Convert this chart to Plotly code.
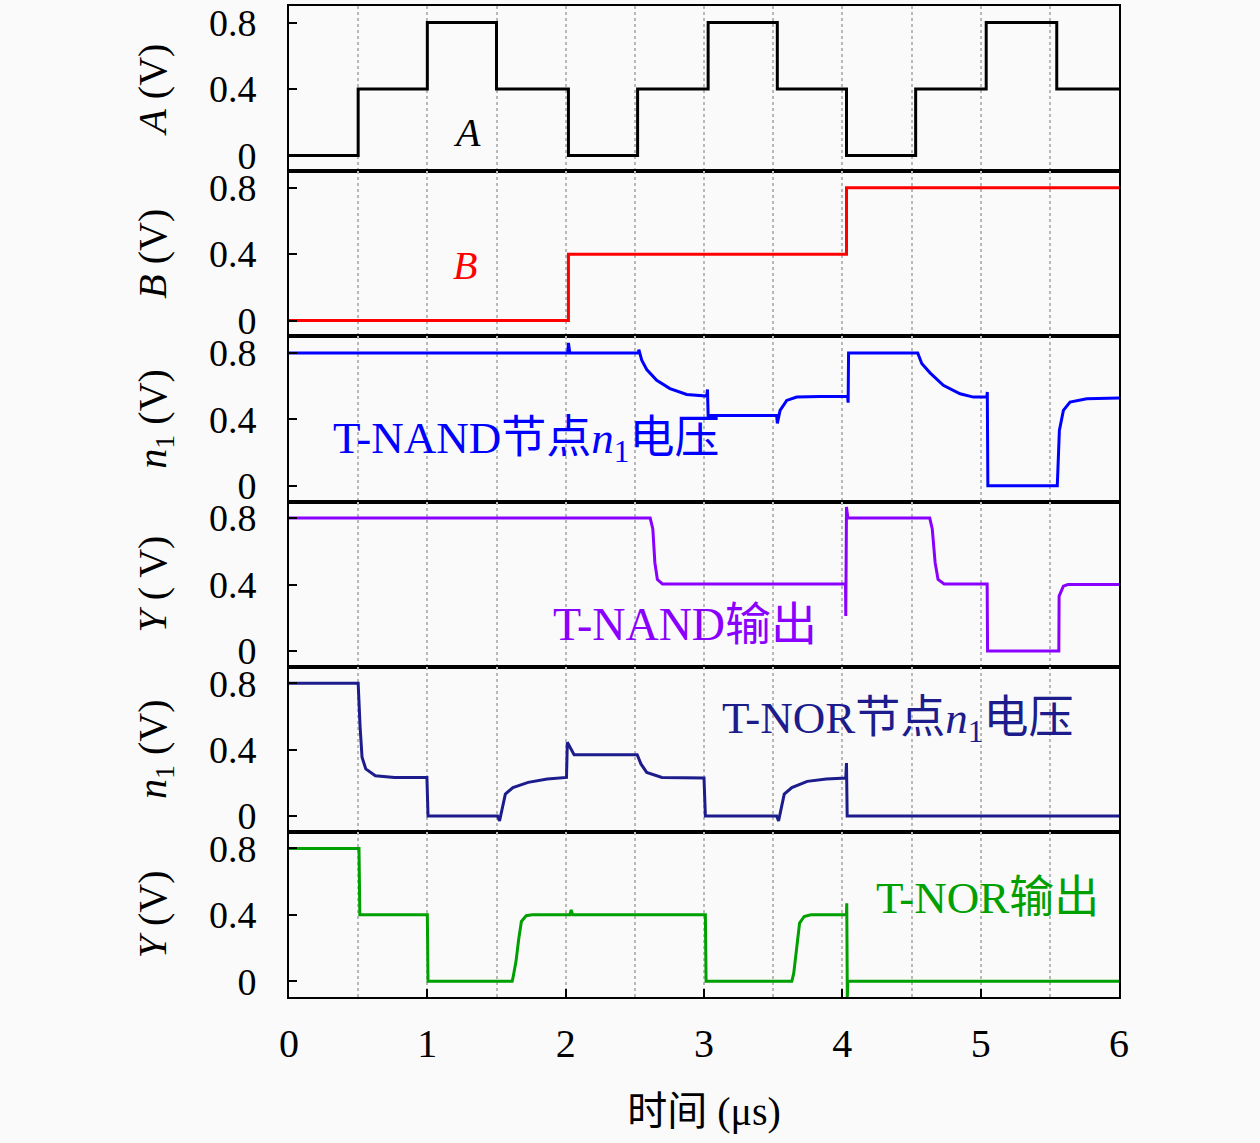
import plotly.graph_objects as go
from plotly.subplots import make_subplots

# input A (step levels, hv)
t_a = [0, 0.5, 1.0, 1.5, 2.02, 2.52, 3.03, 3.53, 4.03, 4.53, 5.04, 5.55, 6]
v_a = [0, 0.4, 0.8, 0.4, 0, 0.4, 0.8, 0.4, 0, 0.4, 0.8, 0.4, 0.4]

# input B (step levels, hv)
t_b = [0, 2.02, 4.03, 6]
v_b = [0, 0.4, 0.8, 0.8]

# T-NAND node n1
t_nand_n1 = [0, 2.015, 2.02, 2.03, 2.526, 2.529, 2.55, 2.586, 2.658, 2.754, 2.875, 3.02,
             3.025, 3.03, 3.525, 3.53, 3.55, 3.598, 3.67, 3.839, 4.038, 4.042, 4.045,
             4.545, 4.574, 4.634, 4.73, 4.851, 4.947, 5.045, 5.048, 5.052, 5.554,
             5.569, 5.598, 5.646, 5.767, 6]
v_nand_n1 = [0.8, 0.8, 0.86, 0.8, 0.8, 0.82, 0.756, 0.70, 0.635, 0.585, 0.55, 0.54,
             0.58, 0.423, 0.423, 0.375, 0.454, 0.514, 0.534, 0.538, 0.538, 0.50, 0.8,
             0.8, 0.736, 0.68, 0.605, 0.554, 0.534, 0.534, 0.565, 0.0, 0.0,
             0.333, 0.454, 0.504, 0.524, 0.528]

# T-NAND output Y
t_nand_y = [0, 2.611, 2.63, 2.645, 2.663, 2.70, 4.023, 4.025, 4.03, 4.04,
            4.632, 4.65, 4.671, 4.692, 4.736, 5.047, 5.05, 5.565, 5.567, 5.598, 5.63, 6]
v_nand_y = [0.8, 0.8, 0.735, 0.53, 0.43, 0.403, 0.403, 0.21, 0.867, 0.8,
            0.8, 0.735, 0.53, 0.43, 0.403, 0.403, 0.0, 0.0, 0.33, 0.39, 0.4, 0.4]

# T-NOR node n1
t_nor_n1 = [0, 0.5, 0.514, 0.528, 0.555, 0.624, 0.762, 0.997, 1.005, 1.508, 1.522,
            1.564, 1.619, 1.729, 1.867, 2.006, 2.012, 2.061, 2.517, 2.544, 2.586,
            2.696, 3.0, 3.01, 3.525, 3.539, 3.58, 3.635, 3.746, 3.884, 4.025, 4.03,
            4.035, 6]
v_nor_n1 = [0.8, 0.8, 0.537, 0.354, 0.284, 0.243, 0.233, 0.233, 0.0, 0.0, -0.03,
            0.132, 0.172, 0.203, 0.223, 0.233, 0.445, 0.369, 0.369, 0.314, 0.263,
            0.233, 0.229, 0.0, 0.0, -0.03, 0.132, 0.172, 0.209, 0.223, 0.229, 0.32,
            0.0, 0.0]

# T-NOR output Y
t_nor_y = [0, 0.506, 0.512, 1.0, 1.005, 1.613, 1.619, 1.641, 1.66, 1.68, 1.715, 1.757,
           2.03, 2.04, 2.05, 3.01, 3.015, 3.635, 3.649, 3.669, 3.691, 3.724, 3.773,
           4.03, 4.032, 4.036, 4.04, 6]
v_nor_y = [0.8, 0.8, 0.4, 0.4, 0.0, 0.0, 0.02, 0.12, 0.25, 0.36, 0.395, 0.4,
           0.4, 0.43, 0.4, 0.4, 0.0, 0.0, 0.05, 0.2, 0.35, 0.39, 0.4,
           0.4, 0.47, -0.1, 0.0, 0.0]

x_ticks = [0, 1, 2, 3, 4, 5, 6]
y_ticks = [0, 0.4, 0.8]
y_tick_text = ['0', '0.4', '0.8']

SERIF = 'Liberation Serif, Noto Sans CJK SC, serif'
BG = '#fafafa'

fig = make_subplots(rows=6, cols=1, shared_xaxes=True, vertical_spacing=0)

series = [
    (t_a, v_a, 'black', 'hv'),
    (t_b, v_b, '#ff0000', 'hv'),
    (t_nand_n1, v_nand_n1, '#0000ff', 'linear'),
    (t_nand_y, v_nand_y, '#8a00ff', 'linear'),
    (t_nor_n1, v_nor_n1, '#1c1c8c', 'linear'),
    (t_nor_y, v_nor_y, '#00a000', 'linear'),
]
for i, (t, v, c, shape) in enumerate(series, start=1):
    fig.add_trace(go.Scatter(x=t, y=v, mode='lines', line=dict(color=c, width=3, shape=shape),
                             showlegend=False), row=i, col=1)

y_titles = ['<i>A</i> (V)', '<i>B</i> (V)', '<i>n</i><sub>1</sub> (V)',
            '<i>Y</i> ( V)', '<i>n</i><sub>1</sub> (V)', '<i>Y</i> (V)']

for i in range(1, 7):
    fig.update_yaxes(range=[-0.095, 0.9], tickvals=y_ticks, ticktext=y_tick_text,
                     ticks='inside', ticklen=8, tickwidth=2, tickcolor='black',
                     ticklabelstandoff=23, showgrid=False, zeroline=False,
                     showline=True, linecolor='black', linewidth=2, mirror=True,
                     tickfont=dict(family=SERIF, size=38, color='black'),
                     title=dict(text=y_titles[i - 1], standoff=30,
                                font=dict(family=SERIF, size=40, color='black')),
                     row=i, col=1)
    fig.update_xaxes(range=[0, 6], tickvals=x_ticks, showgrid=True, gridcolor='#b8b8b8',
                     griddash='dot', gridwidth=1.5,
                     minor=dict(dtick=0.5, tick0=0, showgrid=True, gridcolor='#b8b8b8',
                                griddash='dot', gridwidth=1.5),
                     zeroline=False, showline=True, linecolor='black', linewidth=2,
                     mirror=True, ticks='', row=i, col=1)

fig.update_xaxes(ticks='inside', ticklen=8, tickwidth=2, tickcolor='black',
                 showticklabels=True, ticklabelstandoff=10,
                 tickfont=dict(family=SERIF, size=40, color='black'),
                 title=dict(text='时间 (μs)', standoff=32,
                            font=dict(family=SERIF, size=40, color='black')),
                 row=6, col=1)

labels = [
    (1, 1.29, 0.14, '<i>A</i>', 'black', 40),
    (2, 1.27, 0.33, '<i>B</i>', '#ff0000', 40),
    (3, 1.72, 0.27, 'T-NAND节点<i>n</i><sub>1</sub>电压', '#0000ff', 45),
    (4, 2.86, 0.16, 'T-NAND输出', '#8a00ff', 46),
    (5, 4.40, 0.57, 'T-NOR节点<i>n</i><sub>1</sub>电压', '#1c1c8c', 45),
    (6, 5.05, 0.50, 'T-NOR输出', '#00a000', 45),
]
for row, x, y, text, c, size in labels:
    sfx = '' if row == 1 else str(row)
    fig.add_annotation(x=x, y=y, xref='x' + sfx, yref='y' + sfx, text=text,
                       showarrow=False, xanchor='center', yanchor='middle',
                       font=dict(family=SERIF, size=size, color=c))

fig.update_layout(width=1260, height=1143, paper_bgcolor=BG, plot_bgcolor=BG,
                  margin=dict(l=289, r=141, t=2, b=146), showlegend=False)

fig.write_html("out.html", config={'displayModeBar': False},
               post_script="document.body.style.margin='0';")
